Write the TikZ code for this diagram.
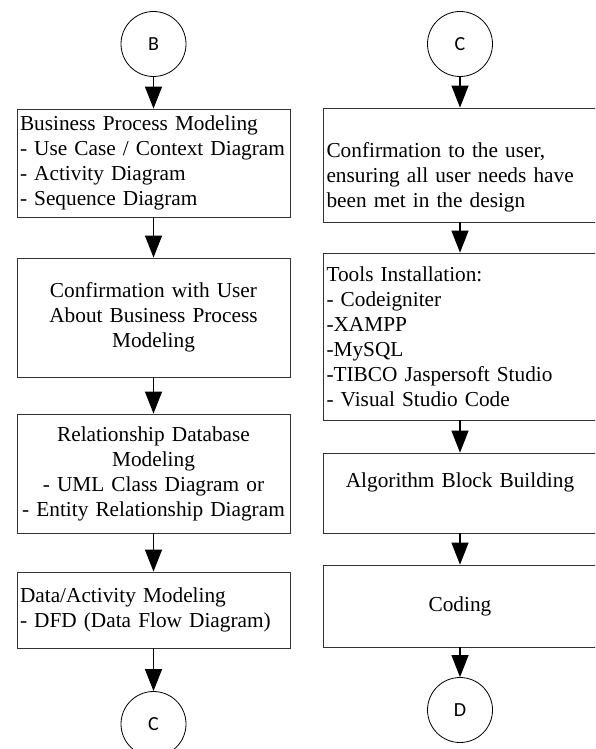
\documentclass[tikz,border=0pt]{standalone}
\usepackage{fontspec}
\setmainfont{Liberation Serif}
\newfontfamily\circfont{Carlito}
\usetikzlibrary{arrows.meta}

\begin{document}
\begin{tikzpicture}[x=1pt,y=-1pt,
  stepbox/.style={draw=black!80,line width=0.8pt,rectangle,inner xsep=3pt,inner ysep=0pt,
    minimum width=273pt,text width=267pt,font=\fontsize{21.3}{25}\selectfont},
  conn/.style={draw,circle,line width=0.8pt,minimum size=65pt,inner sep=0pt,
    font=\circfont\fontsize{20}{22}\selectfont},
  flow/.style={-{Triangle[length=22pt,width=17pt]},line width=1.2pt}]
  \clip (0,0) rectangle (595,749);
  % left column
  \node[conn] (B) at (153.5,44) {B};
  \node[stepbox,align=left,minimum height=108pt] (bpm) at (153.5,163)
    {Business Process Modeling\\- Use Case / Context Diagram\\- Activity Diagram\\- Sequence Diagram};
  \node[stepbox,align=center,minimum height=119pt] (confuser) at (153.5,317.5)
    {Confirmation with User\\About Business Process\\Modeling};
  \node[stepbox,align=center,minimum height=119pt] (rdm) at (153.5,473.5)
    {Relationship Database\\Modeling\\- UML Class Diagram or\\- Entity Relationship Diagram};
  \node[stepbox,align=left,minimum height=76pt] (dam) at (153.5,610)
    {Data/Activity Modeling\\- DFD (Data Flow Diagram)};
  \node[conn] (Cout) at (153.5,724) {C};
  % right column
  \node[conn] (Cin) at (460,44) {C};
  \node[stepbox,align=left,minimum width=274pt,minimum height=114pt] (confdesign) at (460,165)
    {\mbox{}\\[14pt]Confirmation to the user,\\ensuring all user needs have\\been met in the design};
  \node[stepbox,align=left,minimum width=274pt,minimum height=167pt] (tools) at (460,336.5)
    {Tools Installation:\\- Codeigniter\\-XAMPP\\-MySQL\\-TIBCO Jaspersoft Studio\\- Visual Studio Code};
  \node[stepbox,align=center,minimum width=274pt,minimum height=80pt] (algo) at (460,493)
    {Algorithm Block Building\\\mbox{}};
  \node[stepbox,align=center,minimum width=274pt,minimum height=82pt] (coding) at (460,606)
    {Coding};
  \node[conn] (D) at (460,710) {D};
  % arrows
  \foreach \a/\b in {B/bpm,bpm/confuser,confuser/rdm,rdm/dam,dam/Cout,
                     Cin/confdesign,confdesign/tools,tools/algo,algo/coding,coding/D} {
    \draw[flow] (\a) -- (\b);
  }
\end{tikzpicture}
\end{document}
